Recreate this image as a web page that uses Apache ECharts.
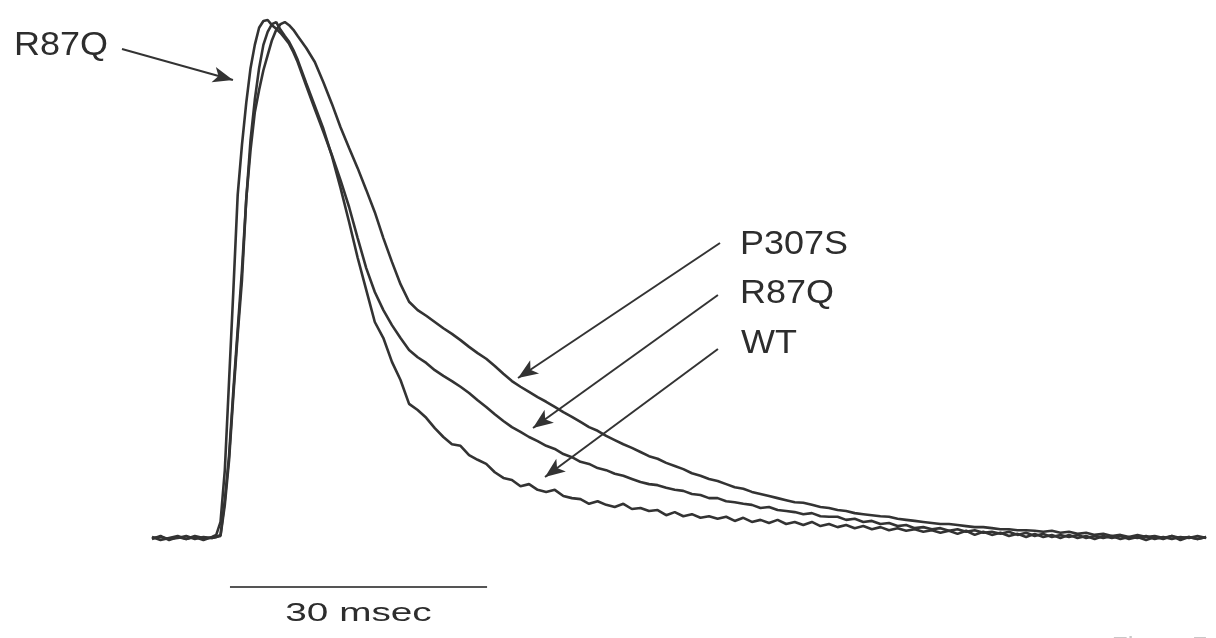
<!DOCTYPE html>
<html><head><meta charset="utf-8">
<script src="https://cdn.jsdelivr.net/npm/echarts@6/dist/echarts.min.js"></script>
<style>html,body{margin:0;padding:0;background:#fff}#main{width:1216px;height:638px}</style>
</head><body><div id="main"></div>
<script>
// time (ms) after start of the sweep
const timeMs = [0,1,2,3,4,5,6,7,
  7.5,8,8.5,9,9.5,10,10.5,11,11.5,12,12.5,13,13.5,14,14.5,15,15.5,16,16.5,17,
  18,19,20,21,22,23,24,25,26,27,
  28,29,30,31,32,33,34,35,36,37,
  38,39,40,41,42,43,44,45,46,47,
  48,49,50,51,52,53,54,55,56,57,
  58,59,60,61,62,63,64,65,66,67,
  68,69,70,71,72,73,74,75,76,77,
  78,79,80,81,82,83,84,85,86,87,
  88,89,90,91,92,93,94,95,96,97,
  98,99,100,101,102,103,104,105,106,107,
  108,109,110,111,112,113,114,115,116,117,
  118,119,120,121,122,123];

// normalized amplitude (% of peak)
const wt = [-0.2,0.4,-0.4,0.2,-0.2,0.4,0,0,
  0.2,0.6,7.3,16.0,28.6,40.2,51.7,65.3,76.8,84.6,90.7,95.2,97.7,99.2,99.6,98.1,96.9,95.8,94.2,92.3,
  87.8,83.4,79.0,73.7,67.6,61.0,54.1,47.9,41.7,38.6,
  34.0,30.5,25.9,24.7,23.2,21.2,19.5,18.1,17.8,16.0,
  15.1,14.3,12.7,11.6,11.2,10.0,10.4,9.3,8.9,9.3,
  8.1,7.7,7.5,6.6,7.1,6.4,6.0,6.6,5.6,5.8,
  5.2,5.4,4.4,5.0,4.2,4.6,3.9,4.2,3.7,4.1,
  3.3,3.9,3.1,3.5,2.9,3.5,2.7,3.1,2.5,3.1,
  2.3,2.7,2.1,2.5,1.9,2.3,1.7,2.1,1.5,1.9,
  1.4,1.7,1.2,1.5,1.0,1.4,0.8,1.4,0.6,1.2,
  0.6,1.0,0.4,0.8,0.2,0.8,0.2,0.6,0,0.6,
  0,0.4,-0.2,0.4,0,0.4,-0.2,0.2,-0.4,0.2,
  -0.2,0.4,-0.4,0.2,-0.2,0.2];

const r87q = [0.2,-0.4,0,0.4,-0.2,0.2,-0.4,0.2,
  0.6,3.1,13.1,30.5,47.9,66.2,75.9,84.0,90.7,95.2,98.5,99.8,100.0,99.0,98.3,97.5,96.5,95.4,93.8,91.9,
  87.3,82.8,78.4,73.9,69.1,63.9,57.9,52.1,47.5,44.0,
  41.1,38.6,36.3,34.9,33.8,32.4,31.3,30.3,29.2,28.0,
  26.6,25.3,23.9,22.6,21.4,20.5,19.5,18.7,17.8,17.2,
  16.2,15.6,14.7,14.3,13.5,13.1,12.4,12.0,11.4,10.8,
  10.4,10.2,9.7,9.3,9.1,8.5,8.3,7.7,7.7,7.1,
  6.9,6.6,6.4,5.8,6.0,5.4,5.2,5.0,4.6,4.8,
  4.2,4.1,4.1,3.5,3.7,3.1,3.3,2.7,2.9,2.3,
  2.5,1.9,2.1,1.7,1.9,1.4,1.7,1.2,1.5,1.0,
  1.2,0.8,1.2,0.6,1.0,0.4,0.8,0.2,0.6,0.2,
  0.6,0,0.4,0,0.4,-0.2,0.2,0,0.4,-0.2,
  0.2,-0.2,0.2,0,0.4,0];

const p307s = [0,0.2,-0.2,0,0.4,-0.2,0.2,0,
  0.2,0.4,6.4,15.1,27.6,39.2,49.8,65.4,74.9,82.2,86.5,90.3,93.2,96.1,98.1,99.2,99.6,99.0,98.1,96.9,
  94.6,91.9,88.0,83.8,79.3,75.3,71.4,67.2,62.9,57.9,
  53.3,49.0,45.6,44.0,42.9,41.7,40.5,39.4,38.2,36.9,
  35.7,34.6,33.2,31.7,30.3,29.2,28.2,27.2,26.3,25.3,
  24.3,23.4,22.4,21.4,20.7,19.7,18.9,18.1,17.4,16.6,
  15.8,15.3,14.5,13.9,13.3,12.5,12.0,11.4,11.0,10.4,
  9.8,9.5,8.9,8.5,8.1,7.7,7.3,6.9,6.8,6.4,
  6.0,5.8,5.4,5.2,4.8,4.6,4.4,4.2,4.1,3.7,
  3.5,3.3,3.1,2.9,2.7,2.7,2.5,2.3,2.1,2.1,
  1.9,1.7,1.7,1.5,1.5,1.4,1.2,1.4,1.0,1.2,
  0.8,1.0,0.6,0.8,0.4,0.6,0.2,0.6,0.2,0.4,
  0,0.4,0,0.2,-0.2,0.2];

// annotations (data coordinates: ms, % of peak)
const labelTexts = ['R87Q','P307S','R87Q','WT'];
const labelAt = [[-5.13,94.98],[68.61,56.56],[68.61,47.2],[68.73,37.55]];
const arrowFrom = [[-3.50,94.4],[66.28,56.95],[66.04,46.91],[66.04,36.49]];
const arrowTo = [[9.45,88.42],[42.71,30.89],[44.46,21.24],[45.86,11.78]];
const scaleBarMs = [9.1, 39.1];
const scaleBarLevel = -9.46;
const scaleBarText = '30 msec';
const scaleTextAt = [24.1, -14.67];
const figureText = 'Figure 7';
const figureTextAt = [112.0, -18.7];

const chart = echarts.init(document.getElementById('main'), null, {renderer:'canvas'});
const pair = arr => timeMs.map((t,i) => [t, arr[i]]);
const traceLine = {color:'#333', width:2.6};
const trace = (name, arr) => ({name, type:'line', data:pair(arr), symbol:'none', showSymbol:false,
  lineStyle:traceLine, clip:false, silent:true, z:3});

chart.setOption({
  animation:false,
  backgroundColor:'#fff',
  grid:{left:2, width:1204.1, top:20, height:595.7, outerBoundsMode:'none', containLabel:false},
  xAxis:{type:'value', min:-17.5, max:123, show:false},
  yAxis:{type:'value', min:-15, max:100, show:false},
  series:[
    trace('WT', wt),
    trace('R87Q', r87q),
    trace('P307S', p307s),
    {name:'scale', type:'line', data:scaleBarMs.map(t => [t, scaleBarLevel]), symbol:'none',
     lineStyle:{color:'#555', width:2}, clip:false, silent:true,
     markLine:{silent:true, animation:false, symbol:['none','arrow'], symbolSize:[12,20],
       lineStyle:{color:'#333', width:2, type:'solid'}, label:{show:false},
       emphasis:{disabled:true},
       data:arrowFrom.map((f,i) => [{coord:f},{coord:arrowTo[i]}])}}
  ]
});

const px = p => chart.convertToPixel({gridIndex:0}, p);
const graphics = labelTexts.map((txt,i) => {
  const p = px(labelAt[i]);
  const al = i === 0 ? 'right' : 'left';
  return {type:'text', x:p[0], y:p[1], scaleX:1.09, silent:true,
    style:{text:txt, font:'33px "Liberation Sans", Arial, sans-serif', fill:'#2d2d2d',
      align:al, textAlign:al, verticalAlign:'middle', textVerticalAlign:'middle'}};
});
const sp = px(scaleTextAt);
graphics.push({type:'text', x:sp[0], y:sp[1], scaleX:1.55, silent:true,
  style:{text:scaleBarText, font:'25px "Liberation Sans", Arial, sans-serif', fill:'#2d2d2d',
    align:'center', textAlign:'center', verticalAlign:'middle', textVerticalAlign:'middle'}});
const fp = px(figureTextAt);
graphics.push({type:'text', x:fp[0], y:fp[1], silent:true,
  style:{text:figureText, font:'26px "Liberation Sans", Arial, sans-serif', fill:'#c8c8c8',
    align:'left', textAlign:'left', verticalAlign:'top', textVerticalAlign:'top'}});
chart.setOption({graphic:graphics});
</script></body></html>
